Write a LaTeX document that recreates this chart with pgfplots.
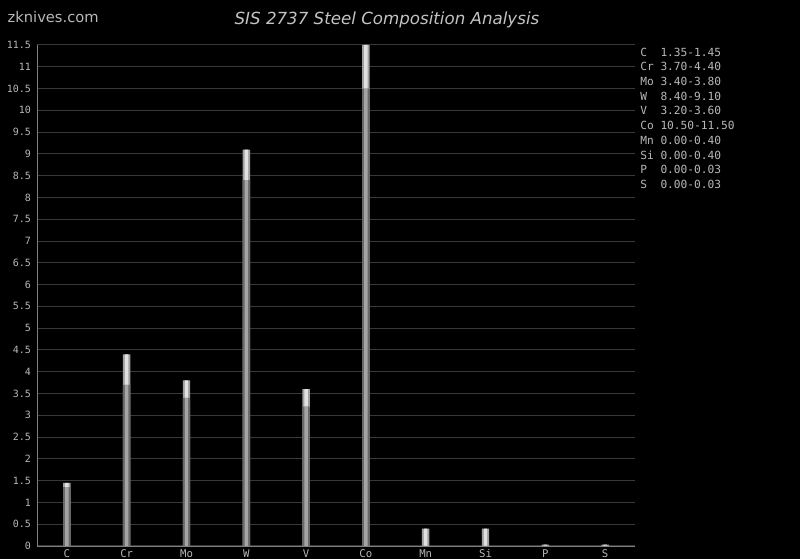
\documentclass[border=0pt]{standalone}
\usepackage{pgfplots}
\pgfplotsset{compat=1.18}
\usepackage{pgfplotstable}
\usepackage{fontspec}
\setmainfont{DejaVu Sans}
\setmonofont{DejaVu Sans Mono}
\definecolor{bg}{HTML}{000000}
\definecolor{gridc}{HTML}{383838}
\definecolor{axisc}{HTML}{808080}
\definecolor{txt}{HTML}{B8B8B8}
\definecolor{lotop}{HTML}{A4A4A4}
\definecolor{loedge}{HTML}{686868}
\definecolor{hitop}{HTML}{E0E0E0}
\definecolor{hiedge}{HTML}{A0A0A0}

\pgfplotstableread{
x lo hi
0 1.35 1.45
1 3.70 4.40
2 3.40 3.80
3 8.40 9.10
4 3.20 3.60
5 10.50 11.50
6 0.00 0.40
7 0.00 0.40
8 0.00 0.03
9 0.00 0.03
}\comp

\begin{document}
\begin{tikzpicture}[x=0.75pt,y=0.75pt]
\fill[bg] (0,0) rectangle (800,559);
\begin{axis}[
  at={(27.75pt,9.75pt)}, anchor=south west,
  scale only axis, width=448.5pt, height=375.75pt,
  xmin=-0.5, xmax=9.5, ymin=0, ymax=11.5,
  ybar, bar shift=0pt,
  axis x line*=bottom, axis y line*=left,
  axis line style={axisc, -},
  ytick={0,0.5,...,11.5},
  xtick={0,...,9},
  xticklabels={C,Cr,Mo,W,V,Co,Mn,Si,P,S},
  major tick length=0pt,
  ymajorgrids, grid style={gridc, line width=0.75pt},
  /pgf/number format/assume math mode=true,
  ticklabel style={font=\ttfamily\fontsize{7.5}{8}\selectfont, text=txt},
  yticklabel style={xshift=-1pt},
  xticklabel style={yshift=1pt, font=\ttfamily\fontsize{8}{9}\selectfont},
]
\addplot[draw=none, fill=hiedge, bar width=5.6pt, bar shift=0pt] table[x=x, y=hi] {\comp};
\addplot[draw=none, fill=hitop, bar width=2.6pt, bar shift=0pt] table[x=x, y=hi] {\comp};
\addplot[draw=none, fill=loedge, bar width=5.6pt, bar shift=0pt] table[x=x, y=lo] {\comp};
\addplot[draw=none, fill=lotop, bar width=2.6pt, bar shift=0pt] table[x=x, y=lo] {\comp};
\end{axis}
\node[anchor=west, text=txt, font=\fontsize{11}{12}\selectfont] at (3,542) {zknives.com};
\node[text=txt!85, font=\itshape\fontsize{12.5}{14}\selectfont] at (387,539) {SIS 2737 Steel Composition Analysis};
\foreach \t [count=\i] in {{C\ \ 1.35-1.45},{Cr 3.70-4.40},{Mo 3.40-3.80},{W\ \ 8.40-9.10},{V\ \ 3.20-3.60},{Co 10.50-11.50},{Mn 0.00-0.40},{Si 0.00-0.40},{P\ \ 0.00-0.03},{S\ \ 0.00-0.03}}
  \node[anchor=west, inner sep=0pt, text=txt, font=\ttfamily\fontsize{8.4}{9}\selectfont] at (640,559-52-14.7*\i+14.7) {\t};
\pgfresetboundingbox
\useasboundingbox (0,0) rectangle (800,559);
\end{tikzpicture}
\end{document}
